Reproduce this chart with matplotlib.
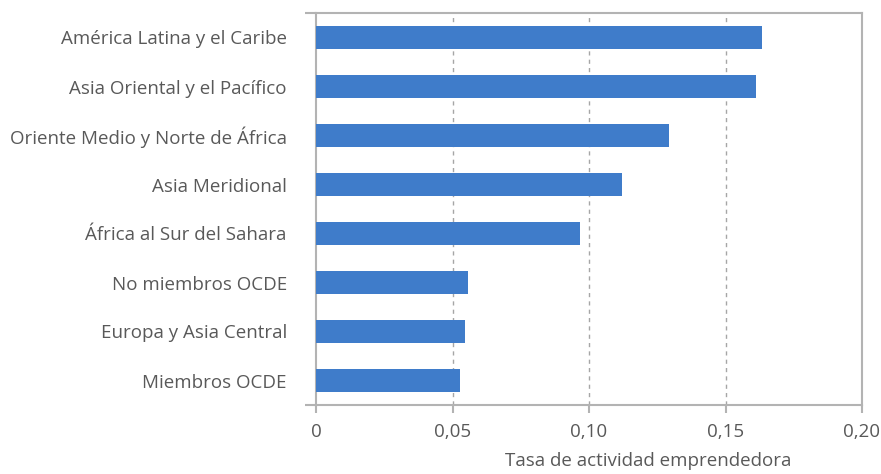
import matplotlib
matplotlib.use("Agg")
import matplotlib.pyplot as plt
from matplotlib.ticker import FuncFormatter

regions = [
    "América Latina y el Caribe",
    "Asia Oriental y el Pacífico",
    "Oriente Medio y Norte de África",
    "Asia Meridional",
    "África al Sur del Sahara",
    "No miembros OCDE",
    "Europa y Asia Central",
    "Miembros OCDE",
]
rates = [0.1634, 0.1612, 0.1293, 0.1121, 0.0967, 0.0557, 0.0544, 0.0529]
x_ticks = [0, 0.05, 0.10, 0.15, 0.20]

plt.rcParams["font.family"] = ["Open Sans", "DejaVu Sans"]
text_color = "#595959"
line_color = "#b3b3b3"

fig = plt.figure(figsize=(8.81, 4.74), dpi=100)
ax = fig.add_axes([316 / 881, 1 - 405 / 474, 546 / 881, 392 / 474])

pos = list(range(len(regions)))[::-1]
ax.barh(pos, rates, height=0.47, color="#3f7cca", zorder=3)

ax.set_xlim(0, 0.20)
ax.set_ylim(-0.5, len(regions) - 0.5)
ax.set_xticks(x_ticks)
ax.xaxis.set_major_formatter(
    FuncFormatter(lambda v, _: "0" if v == 0 else f"{v:.2f}".replace(".", ","))
)
ax.set_yticks(pos)
ax.set_yticklabels(regions)

# dashed grid only at inner ticks
for v in x_ticks[1:-1]:
    ax.axvline(v, color="#a6a6a6", linestyle=(0, (3, 3)), linewidth=1, zorder=1)

for side in ["left", "right", "top", "bottom"]:
    ax.spines[side].set_color(line_color)
    ax.spines[side].set_linewidth(1.5)

# short ticks sticking out left at top and bottom edges
ax.set_yticks([-0.5, len(regions) - 0.5], minor=True)
ax.tick_params(axis="y", which="major", length=0, pad=21, labelsize=13.5, labelcolor=text_color)
ax.tick_params(axis="y", which="minor", length=8, width=1.5, color=line_color)
ax.tick_params(axis="x", length=6, width=1.5, color=line_color, pad=7,
               labelsize=13.5, labelcolor=text_color)

ax.set_xlabel("Tasa de actividad emprendedora", fontsize=13.5, color=text_color)
ax.xaxis.set_label_coords(0.608, -0.12)

fig.savefig("out.png", dpi=100)
